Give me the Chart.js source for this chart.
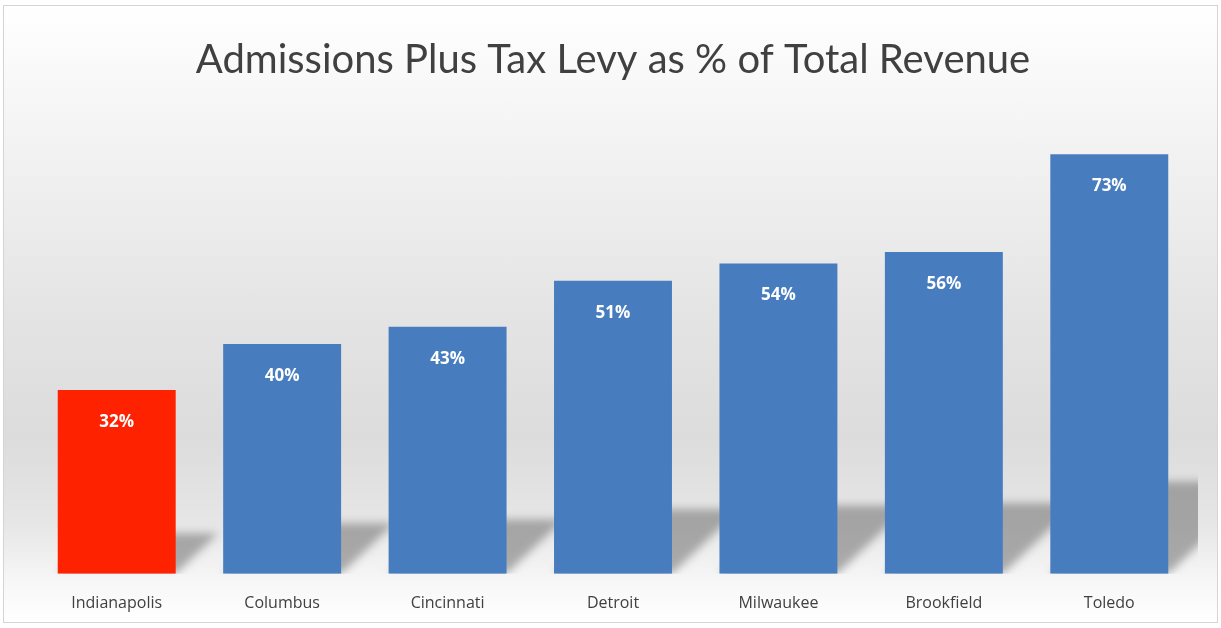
<!DOCTYPE html>
<html>
<head>
<meta charset="utf-8">
<script src="https://cdn.jsdelivr.net/npm/chart.js@4.4.1/dist/chart.umd.min.js"></script>
<style>
  html, body { margin: 0; padding: 0; background: #ffffff; }
  #frame {
    position: absolute;
    left: 3px; top: 5px;
    width: 1213px; height: 616px;
    border: 1px solid #d4d4d4;
    background: linear-gradient(to bottom, #ffffff 0%, #f4f4f4 20%, #e4e4e4 50%, #dcdcdc 70%, #e6e6e6 84%, #f6f6f6 93%, #ffffff 100%);
  }
  canvas { display: block; }
</style>
</head>
<body>
<div id="frame"><canvas id="chart" width="1213" height="616"></canvas></div>
<script>
const cities = ['Indianapolis', 'Columbus', 'Cincinnati', 'Detroit', 'Milwaukee', 'Brookfield', 'Toledo'];
const shares = [32, 40, 43, 51, 54, 56, 73];
const barColors = ['#fe2200', '#477dbf', '#477dbf', '#477dbf', '#477dbf', '#477dbf', '#477dbf'];

// soft floor shadow behind every bar, skewed back and to the right
const barShadows = {
    id: 'barShadows',
    beforeDatasetsDraw(chart) {
        const ctx = chart.ctx;
        const area = chart.chartArea;
        ctx.save();
        ctx.beginPath();
        ctx.rect(area.left, area.top, area.right - area.left + 6, area.bottom - area.top);
        ctx.clip();
        ctx.filter = 'blur(4px)';
        chart.getDatasetMeta(0).data.forEach(bar => {
            const left = bar.x - bar.width / 2;
            const right = bar.x + bar.width / 2;
            const h = (bar.base - bar.y) * 0.22;
            const s = h * 1.05;
            ctx.fillStyle = 'rgba(110,110,110,0.55)';
            ctx.beginPath();
            ctx.moveTo(left, bar.base);
            ctx.lineTo(right, bar.base);
            ctx.lineTo(right + s, bar.base - h);
            ctx.lineTo(left + s, bar.base - h);
            ctx.closePath();
            ctx.fill();
        });
        ctx.restore();
    }
};

// value labels inside the top of each bar
const valueLabels = {
    id: 'valueLabels',
    afterDatasetsDraw(chart) {
        const ctx = chart.ctx;
        ctx.save();
        ctx.font = 'bold 17px "Open Sans", sans-serif';
        ctx.fillStyle = '#ffffff';
        ctx.textAlign = 'center';
        ctx.textBaseline = 'middle';
        chart.getDatasetMeta(0).data.forEach((bar, i) => {
            ctx.fillText(shares[i] + '%', bar.x, bar.y + 32);
        });
        ctx.restore();
    }
};

new Chart(document.getElementById('chart').getContext('2d'), {
    type: 'bar',
    data: {
        labels: cities,
        datasets: [{
            data: shares,
            backgroundColor: barColors,
            borderWidth: 0,
            categoryPercentage: 1,
            barPercentage: 0.713
        }]
    },
    options: {
        responsive: false,
        animation: false,
        layout: { padding: { left: 30, right: 25, top: 0, bottom: -11 } },
        scales: {
            x: {
                grid: { display: false, drawTicks: false },
                border: { display: false },
                ticks: {
                    color: '#404040',
                    padding: 20,
                    font: { family: '"Open Sans", sans-serif', size: 16 }
                }
            },
            y: {
                display: false,
                min: 0,
                max: 80
            }
        },
        plugins: {
            legend: { display: false },
            tooltip: { enabled: false },
            title: {
                display: true,
                text: 'Admissions Plus Tax Levy as % of Total Revenue',
                color: '#404040',
                font: { family: 'Lato, sans-serif', size: 40, weight: 'normal' },
                padding: { top: 30, bottom: 30 }
            }
        }
    },
    plugins: [barShadows, valueLabels]
});
</script>
</body>
</html>
